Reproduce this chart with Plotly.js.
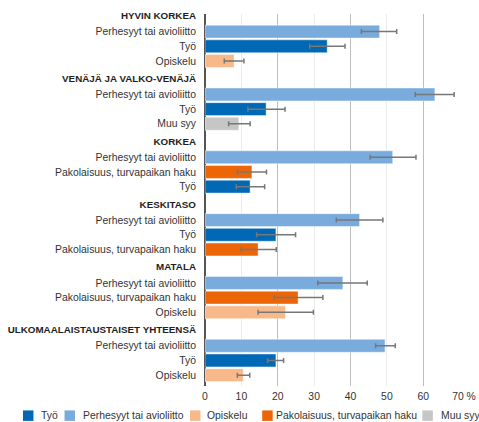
<!DOCTYPE html>
<html>
<head>
<meta charset="utf-8">
<script src="https://cdn.plot.ly/plotly-3.0.1.min.js"></script>
<style>html,body{margin:0;padding:0;background:#fff;}#chart{width:479px;height:422px;}</style>
</head>
<body>
<div id="chart"></div>
<script>
// ---- data ----
const groups = ["HYVIN KORKEA", "VENÄJÄ JA VALKO-VENÄJÄ", "KORKEA", "KESKITASO", "MATALA", "ULKOMAALAISTAUSTAISET YHTEENSÄ"];
const seriesNames = ["Työ", "Perhesyyt tai avioliitto", "Opiskelu", "Pakolaisuus, turvapaikan haku", "Muu syy"];
const seriesColors = ["#0068b4", "#79abdc", "#f8b98a", "#ec6608", "#c6c6c6"];

const rowGroup  = [0, 0, 0, 1, 1, 1, 2, 2, 2, 3, 3, 3, 4, 4, 4, 5, 5, 5];
const rowReason = [
  "Perhesyyt tai avioliitto", "Työ", "Opiskelu",
  "Perhesyyt tai avioliitto", "Työ", "Muu syy",
  "Perhesyyt tai avioliitto", "Pakolaisuus, turvapaikan haku", "Työ",
  "Perhesyyt tai avioliitto", "Työ", "Pakolaisuus, turvapaikan haku",
  "Perhesyyt tai avioliitto", "Pakolaisuus, turvapaikan haku", "Opiskelu",
  "Perhesyyt tai avioliitto", "Työ", "Opiskelu"
];
const rowValue = [48.0, 33.6, 8.0, 63.2, 16.8, 9.3, 51.6, 12.9, 12.4, 42.5, 19.5, 14.6, 37.9, 25.6, 22.1, 49.5, 19.5, 10.5];
const rowLow   = [43.0, 28.8, 5.3, 57.8, 11.8, 6.5, 45.4, 8.9, 8.6, 36.1, 14.2, 9.9, 31.0, 19.0, 14.6, 46.9, 17.2, 8.9];
const rowHigh  = [52.7, 38.5, 10.7, 68.5, 22.0, 12.4, 58.0, 16.9, 16.4, 48.9, 24.9, 19.6, 44.6, 32.4, 29.8, 52.3, 21.6, 12.3];
const xTickVals = [0, 10, 20, 30, 40, 50, 60, 70];
const xTickText = ["0", "10", "20", "30", "40", "50", "60", "&nbsp;&nbsp;&nbsp;70 %"];

// ---- layout constants ----
const W = 479, H = 422;
const X_MAX = 70.1;
const M = {l: 205, r: 18.6, t: 13.5, b: 36};
const PW = W - M.l - M.r, PH = H - M.t - M.b;
const GROUP_STEP = 4.28, FIRST_OFFSET = 1.1;
const FONT = "Liberation Sans, Arial, sans-serif";
const FS = 10.4;

// row positions
const inGroupIdx = {};
const rowPos = rowGroup.map((g) => {
  inGroupIdx[g] = (inGroupIdx[g] === undefined) ? 0 : inGroupIdx[g] + 1;
  return g * GROUP_STEP + FIRST_OFFSET + inGroupIdx[g];
});
const headerPos = groups.map((g, i) => i * GROUP_STEP);

const traces = seriesNames.map((name, si) => {
  const idx = rowReason.map((r, i) => r === name ? i : -1).filter(i => i >= 0);
  return {
    type: "bar", orientation: "h", name: name,
    x: idx.map(i => rowValue[i]),
    y: idx.map(i => rowPos[i]),
    width: 0.88,
    marker: {color: seriesColors[si], line: {color: "rgba(255,255,255,0.45)", width: 1}},
    error_x: {
      type: "data", symmetric: false,
      array: idx.map(i => rowHigh[i] - rowValue[i]),
      arrayminus: idx.map(i => rowValue[i] - rowLow[i]),
      color: "#777777", thickness: 1.5, width: 2.5
    },
    showlegend: false, hoverinfo: "skip"
  };
});
// empty helper trace so the label axis (x2) is drawn
traces.push({type: "scatter", mode: "markers", x: [], y: [], xaxis: "x2", yaxis: "y", showlegend: false, hoverinfo: "skip"});

const yTickVals = headerPos.concat(rowPos);
const yTickText = groups.map(g => '<span style="font-size:9.8px;font-weight:bold;color:#1e1e1e">' + g + '</span>').concat(rowReason);

// manual legend (one row, tight spacing as in reference)
const legendLeftPx = [22.7, 64.3, 190, 262.3, 422.7];
const legendTextPx = [39, 81, 204.7, 274, 439];
const legendCy = 415.7, sq = 10.5;
const toPX = px => (px - M.l) / PW;
const toPY = py => (H - M.b - py) / PH;
const shapes = seriesNames.map((n, i) => ({
  type: "rect", xref: "paper", yref: "paper",
  x0: toPX(legendLeftPx[i]), x1: toPX(legendLeftPx[i] + sq),
  y0: toPY(legendCy - sq / 2), y1: toPY(legendCy + sq / 2),
  fillcolor: seriesColors[i], line: {width: 0}
}));
const annotations = seriesNames.map((n, i) => ({
  xref: "paper", yref: "paper", x: toPX(legendTextPx[i]), y: toPY(legendCy),
  xanchor: "left", yanchor: "middle", showarrow: false, text: n,
  font: {family: FONT, size: FS, color: "#333333"}
}));

const layout = {
  width: W, height: H,
  margin: M,
  paper_bgcolor: "#ffffff", plot_bgcolor: "#ffffff",
  showlegend: false,
  bargap: 0,
  font: {family: FONT, size: FS, color: "#333333"},
  xaxis: {
    range: [0, X_MAX], tick0: 0, dtick: 20,
    showgrid: true, gridcolor: "#bebebe", gridwidth: 1,
    minor: {tick0: 0, dtick: 10, showgrid: true, gridcolor: "#ebebeb", gridwidth: 1},
    zeroline: true, zerolinecolor: "#555555", zerolinewidth: 1.5,
    showticklabels: false, ticks: "", showline: false, fixedrange: true
  },
  xaxis2: {
    overlaying: "x", anchor: "y", side: "bottom",
    range: [0, X_MAX], tickmode: "array", tickvals: xTickVals, ticktext: xTickText,
    showgrid: false, zeroline: false, showline: false, ticks: "",
    tickfont: {family: FONT, size: FS, color: "#333333"}, ticklabelstandoff: 3
  },
  yaxis: {
    range: [25.24, -0.1], tickmode: "array", tickvals: yTickVals, ticktext: yTickText,
    showgrid: false, zeroline: false, showline: false, ticks: "",
    tickfont: {family: FONT, size: FS, color: "#333333"}, ticklabelstandoff: 8
  },
  shapes: shapes,
  annotations: annotations
};

Plotly.newPlot("chart", traces, layout, {staticPlot: true, displayModeBar: false});
</script>
</body>
</html>
